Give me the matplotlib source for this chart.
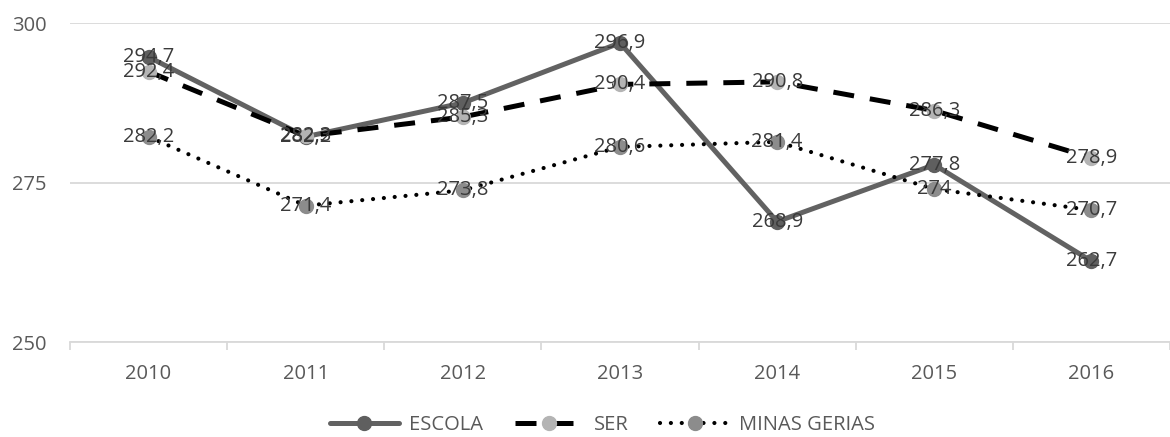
import matplotlib
matplotlib.use("Agg")
import matplotlib.pyplot as plt
from matplotlib.ticker import FixedLocator

years = ["2010", "2011", "2012", "2013", "2014", "2015", "2016"]
escola = [294.7, 282.2, 287.5, 296.9, 268.9, 277.8, 262.7]
ser = [292.4, 282.3, 285.3, 290.4, 290.8, 286.3, 278.9]
minas = [282.2, 271.4, 273.8, 280.6, 281.4, 274.0, 270.7]
series_names = ["ESCOLA", "SER", "MINAS GERIAS"]
yticks = [250, 275, 300]

plt.rcParams['font.family'] = ['Open Sans', 'DejaVu Sans']

fig = plt.figure(figsize=(11.7, 4.37), dpi=100)
ax = fig.add_axes([0.0598, 0.217, 0.9402, 0.730])

x = list(range(len(years)))

ax.plot(x, escola, color="#626262", lw=3.6, marker="o", markersize=10,
        markerfacecolor="#5f5f5f", markeredgecolor="#5f5f5f", label=series_names[0],
        solid_capstyle="round", zorder=3)
ax.plot(x, ser, color="black", lw=3.6, linestyle=(0, (4.2, 3.2)), marker="o", markersize=10,
        markerfacecolor="#b4b4b4", markeredgecolor="#b4b4b4", label=series_names[1], zorder=3)
ax.plot(x, minas, color="black", lw=3.0, linestyle=(0, (0.01, 2.6)), dash_capstyle="round",
        marker="o", markersize=10, markerfacecolor="#8c8c8c", markeredgecolor="#8c8c8c",
        label=series_names[2], zorder=3)

def fmt(v):
    s = f"{v:g}"
    return s.replace(".", ",")

for data in (escola, ser, minas):
    for xi, v in zip(x, data):
        ax.text(xi, v, fmt(v), ha="center", va="center", fontsize=14.5,
                color="#3a3a3a", zorder=5)

ax.set_xlim(-0.5, len(years) - 0.5)
ax.set_ylim(250, 300)
ax.set_yticks(yticks)
ax.set_xticks(x)
ax.set_xticklabels(years)
ax.xaxis.set_minor_locator(FixedLocator([i - 0.5 for i in range(len(years) + 1)]))
ax.grid(axis="y", color="#d9d9d9", lw=1.3, zorder=0)
for s in ("top", "right", "left"):
    ax.spines[s].set_visible(False)
ax.spines["bottom"].set_color("#d9d9d9")
ax.spines["bottom"].set_linewidth(1.3)
ax.tick_params(axis="y", length=0, pad=17, labelsize=14.5, labelcolor="#595959")
ax.tick_params(axis="x", which="major", length=0, pad=16, labelsize=14.5, labelcolor="#595959")
ax.tick_params(axis="x", which="minor", length=6, width=1.3, color="#d9d9d9")

leg = fig.legend(loc="center", bbox_to_anchor=(0.515, 0.027), ncol=3, frameon=False,
                 fontsize=14.5, handlelength=3.4, handletextpad=0.5, columnspacing=1.6,
                 labelcolor="#595959")

fig.savefig("out.png", dpi=100)
